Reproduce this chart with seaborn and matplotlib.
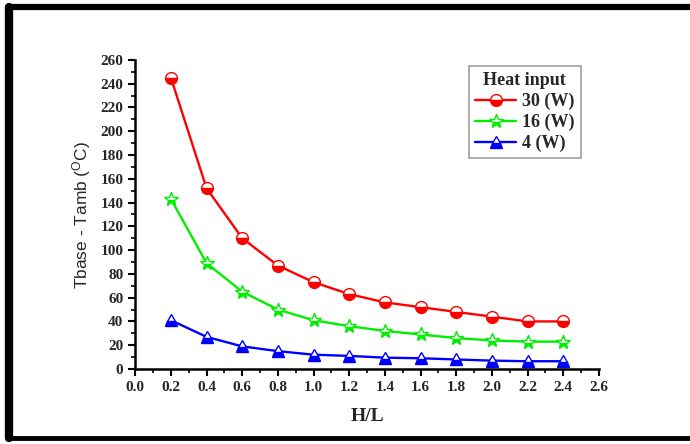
import matplotlib
matplotlib.use('Agg')
import matplotlib.pyplot as plt
from matplotlib.lines import Line2D
from matplotlib.ticker import MultipleLocator
import pandas as pd
import seaborn as sns

# data
hl = [0.2, 0.4, 0.6, 0.8, 1.0, 1.2, 1.4, 1.6, 1.8, 2.0, 2.2, 2.4]
w30 = [245, 152, 110, 87, 73, 63, 56, 52, 48, 44, 40, 40]
w16 = [143, 89, 65, 50, 41, 36, 32, 29, 26, 24, 23, 23]
w4 = [41, 27, 19, 15, 12, 11, 9.5, 9, 8, 7, 6.5, 6.5]
labels = ['30 (W)', '16 (W)', '4 (W)']
xticks = [0.0, 0.2, 0.4, 0.6, 0.8, 1.0, 1.2, 1.4, 1.6, 1.8, 2.0, 2.2, 2.4, 2.6]
yticks = list(range(0, 261, 20))

sns.set_style('ticks')
plt.rcParams['font.family'] = ['Liberation Serif', 'DejaVu Serif']

fig = plt.figure(figsize=(6.9, 4.44), dpi=100)
ax = fig.add_axes([0.196, 0.169, 0.672, 0.696])

series = [w30, w16, w4]
colors = ['#ff0000', '#00ee00', '#0000ff']
marks = ['o', '*', '^']
sizes = [8.5, 10, 8.5]
for vals, lab, c, m, s in zip(series, labels, colors, marks, sizes):
    df = pd.DataFrame({'H/L': hl, 'dT': vals})
    sns.lineplot(data=df, x='H/L', y='dT', ax=ax, color=c, marker=m, markersize=s,
                 fillstyle='bottom', markerfacecolor=c, markerfacecoloralt='white',
                 markeredgecolor=c, markeredgewidth=1, linewidth=1.7, label=lab)

ax.set_xlim(0, 2.6)
ax.set_ylim(0, 260)
ax.set_xticks(xticks)
ax.set_yticks(yticks)
ax.set_xticklabels([f'{t:.1f}' for t in xticks])
ax.xaxis.set_minor_locator(MultipleLocator(0.1))
ax.yaxis.set_minor_locator(MultipleLocator(10))
for lab in ax.get_xticklabels() + ax.get_yticklabels():
    lab.set_fontweight('bold')
    lab.set_fontsize(11)
ax.tick_params(which='major', direction='out', length=5, width=1.5, color='black')
ax.tick_params(which='minor', direction='out', length=3, width=1.2, color='black')
for sp in ['left', 'bottom']:
    ax.spines[sp].set_linewidth(1.8)
    ax.spines[sp].set_color('black')
sns.despine(ax=ax)

ax.set_xlabel('H/L', fontsize=14, fontweight='bold', labelpad=10)
ax.set_ylabel('Tbase - Tamb ($\\mathregular{^{O}}$C)', fontsize=12.5, family='Liberation Sans',
              fontweight='medium', labelpad=5)

leg = ax.legend(title='Heat input', loc='upper right', bbox_to_anchor=(0.98, 1.01),
                frameon=True, fancybox=False, handlelength=2.3, handletextpad=0.3,
                borderpad=0.35, labelspacing=0.2,
                prop={'weight': 'bold', 'size': 13, 'family': 'Liberation Serif'})
leg.get_title().set_fontweight('bold')
leg.get_title().set_fontsize(13)
leg.get_frame().set_edgecolor('#888888')
leg.get_frame().set_linewidth(1.2)

# frame around the whole picture
fig.add_artist(Line2D([9 / 690, 9 / 690], [1 - 7 / 444, 1 - 438 / 444], color='black', lw=6, transform=fig.transFigure))
fig.add_artist(Line2D([9 / 690, 1], [1 - 7 / 444, 1 - 7 / 444], color='black', lw=4.5, transform=fig.transFigure))
fig.add_artist(Line2D([9 / 690, 1], [1 - 438 / 444, 1 - 438 / 444], color='black', lw=3.5, transform=fig.transFigure))

fig.savefig('out.png', dpi=100)
